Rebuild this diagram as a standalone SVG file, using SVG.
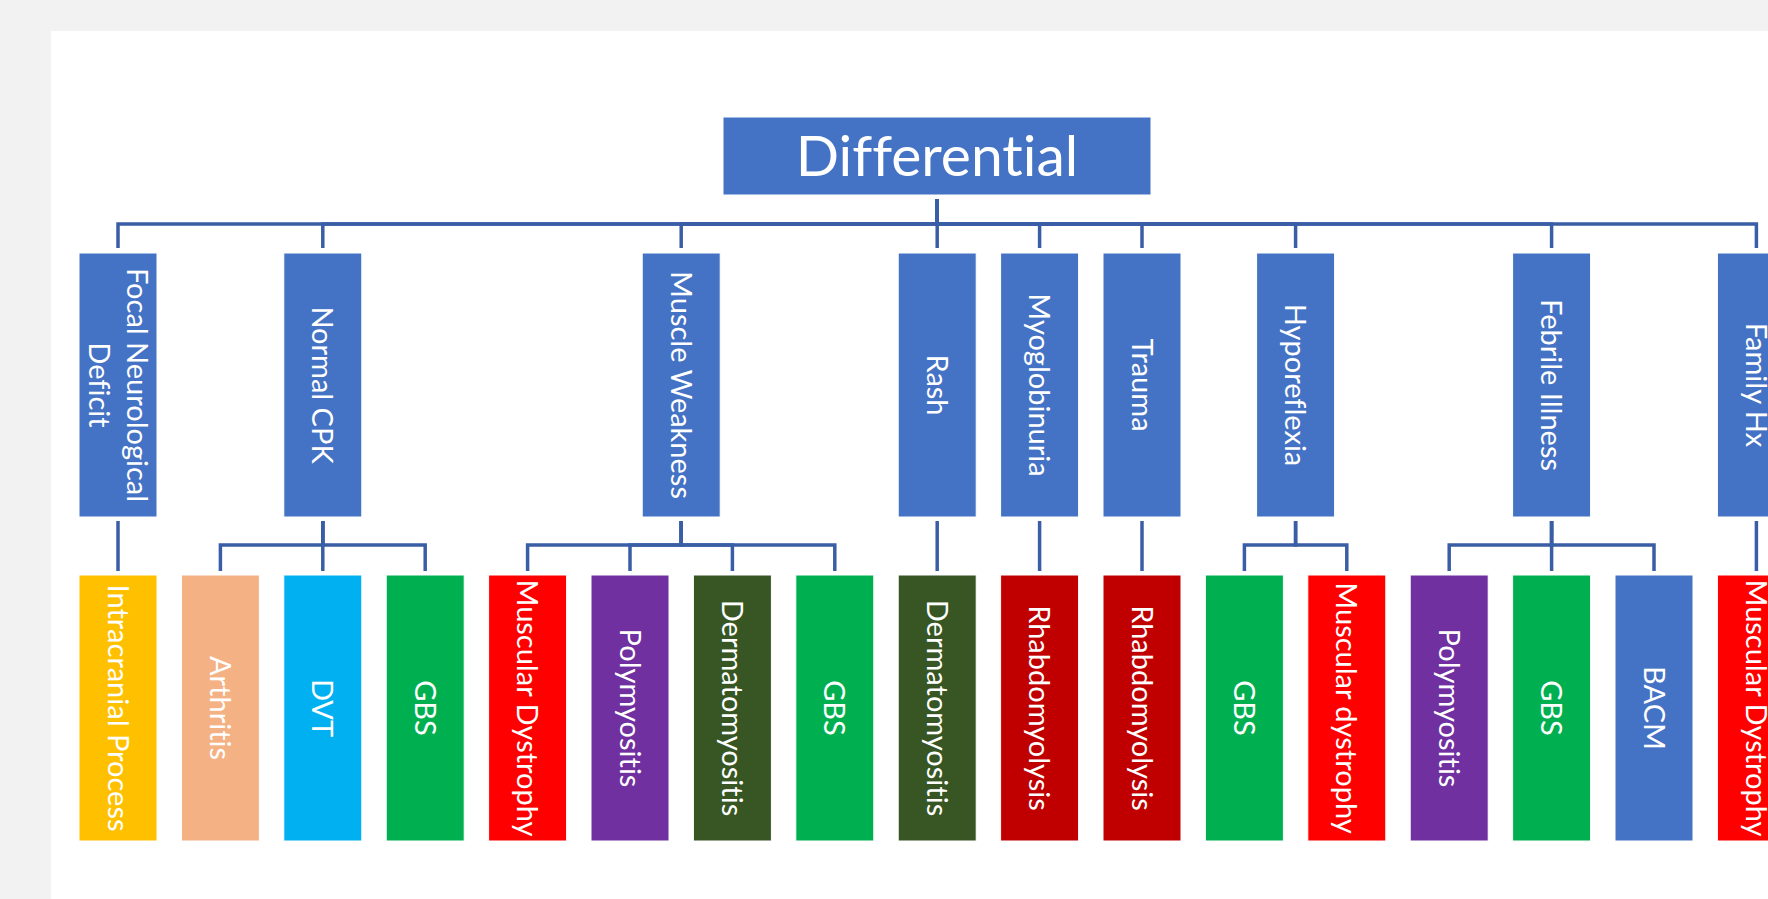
<svg xmlns="http://www.w3.org/2000/svg" width="1768" height="899" viewBox="0 0 1768 899">
  <style>
    .box { stroke: #ffffff; stroke-width: 1; }
    .blue { fill: #4472C4; }
    .lbl { font-family: Lato, "Liberation Sans", sans-serif; font-size: 29px; fill: #ffffff; text-anchor: middle; font-variant-ligatures: none; }
    .title { font-family: Lato, "Liberation Sans", sans-serif; font-size: 57px; fill: #ffffff; text-anchor: middle; font-variant-ligatures: none; }
    .conn { fill: none; stroke: #3A5EA6; stroke-width: 3.5; }
  </style>

  <!-- page -->
  <rect x="0" y="0" width="1768" height="899" fill="#F2F2F2"/>
  <rect x="51" y="31" width="1717" height="868" fill="#FFFFFF"/>

  <!-- connectors -->
  <g id="connectors" class="conn">
    <!-- root to first level -->
    <path d="M937.2,199 V224 H118 V248"/>
    <path d="M937.2,199 V224 H322.8 V248"/>
    <path d="M937.2,199 V224 H681.2 V248"/>
    <path d="M937.2,199 V248"/>
    <path d="M937.2,199 V224 H1039.6 V248"/>
    <path d="M937.2,199 V224 H1142 V248"/>
    <path d="M937.2,199 V224 H1295.6 V248"/>
    <path d="M937.2,199 V224 H1551.6 V248"/>
    <path d="M937.2,199 V224 H1756.4 V248"/>
    <!-- first level to second level -->
    <path d="M118,521 V571"/>
    <path d="M322.8,521 V545 H220.4 V571"/>
    <path d="M322.8,521 V571"/>
    <path d="M322.8,521 V545 H425.2 V571"/>
    <path d="M681.2,521 V545 H527.6 V571"/>
    <path d="M681.2,521 V545 H630 V571"/>
    <path d="M681.2,521 V545 H732.4 V571"/>
    <path d="M681.2,521 V545 H834.8 V571"/>
    <path d="M937.2,521 V571"/>
    <path d="M1039.6,521 V571"/>
    <path d="M1142,521 V571"/>
    <path d="M1295.6,521 V545 H1244.4 V571"/>
    <path d="M1295.6,521 V545 H1346.8 V571"/>
    <path d="M1551.6,521 V545 H1449.2 V571"/>
    <path d="M1551.6,521 V571"/>
    <path d="M1551.6,521 V545 H1654 V571"/>
    <path d="M1756.4,521 V571"/>
  </g>

  <!-- root -->
  <g id="differential">
    <rect class="box blue" x="723" y="117" width="428" height="78"/>
    <text class="title" x="937" y="176">Differential</text>
  </g>

  <!-- first level -->
  <g id="focal-neurological-deficit">
    <rect class="box blue" x="79" y="253" width="78" height="264"/>
    <text class="lbl" transform="translate(126.7,385) rotate(90)"><tspan x="0" y="0">Focal Neurological</tspan><tspan x="0" y="37.4">Deficit</tspan></text>
  </g>
  <g id="normal-cpk">
    <rect class="box blue" x="283.8" y="253" width="78" height="264"/>
    <text class="lbl" transform="translate(312.3,385) rotate(90)">Normal CPK</text>
  </g>
  <g id="muscle-weakness">
    <rect class="box blue" x="642.2" y="253" width="78" height="264"/>
    <text class="lbl" transform="translate(670.7,385) rotate(90)">Muscle Weakness</text>
  </g>
  <g id="rash">
    <rect class="box blue" x="898.2" y="253" width="78" height="264"/>
    <text class="lbl" transform="translate(926.7,385) rotate(90)">Rash</text>
  </g>
  <g id="myoglobinuria">
    <rect class="box blue" x="1000.6" y="253" width="78" height="264"/>
    <text class="lbl" transform="translate(1029.1,385) rotate(90)">Myoglobinuria</text>
  </g>
  <g id="trauma">
    <rect class="box blue" x="1103" y="253" width="78" height="264"/>
    <text class="lbl" transform="translate(1131.5,385) rotate(90)">Trauma</text>
  </g>
  <g id="hyporeflexia">
    <rect class="box blue" x="1256.6" y="253" width="78" height="264"/>
    <text class="lbl" transform="translate(1285.1,385) rotate(90)">Hyporeflexia</text>
  </g>
  <g id="febrile-illness">
    <rect class="box blue" x="1512.6" y="253" width="78" height="264"/>
    <text class="lbl" transform="translate(1541.1,385) rotate(90)">Febrile Illness</text>
  </g>
  <g id="family-hx">
    <rect class="box blue" x="1717.4" y="253" width="78" height="264"/>
    <text class="lbl" transform="translate(1745.9,385) rotate(90)">Family Hx</text>
  </g>

  <!-- second level -->
  <g id="intracranial-process">
    <rect class="box" fill="#FFC000" x="79" y="575" width="78" height="266"/>
    <text class="lbl" transform="translate(107.5,708) rotate(90)">Intracranial Process</text>
  </g>
  <g id="arthritis">
    <rect class="box" fill="#F4B183" x="181.4" y="575" width="78" height="266"/>
    <text class="lbl" transform="translate(209.9,708) rotate(90)">Arthritis</text>
  </g>
  <g id="dvt">
    <rect class="box" fill="#00B0F0" x="283.8" y="575" width="78" height="266"/>
    <text class="lbl" transform="translate(312.3,708) rotate(90)">DVT</text>
  </g>
  <g id="gbs-1">
    <rect class="box" fill="#00B050" x="386.2" y="575" width="78" height="266"/>
    <text class="lbl" transform="translate(414.7,708) rotate(90)">GBS</text>
  </g>
  <g id="muscular-dystrophy-1">
    <rect class="box" fill="#FF0000" x="488.6" y="575" width="78" height="266"/>
    <text class="lbl" transform="translate(517.1,708) rotate(90)">Muscular Dystrophy</text>
  </g>
  <g id="polymyositis-1">
    <rect class="box" fill="#7030A0" x="591" y="575" width="78" height="266"/>
    <text class="lbl" transform="translate(619.5,708) rotate(90)">Polymyositis</text>
  </g>
  <g id="dermatomyositis-1">
    <rect class="box" fill="#375623" x="693.4" y="575" width="78" height="266"/>
    <text class="lbl" transform="translate(721.9,708) rotate(90)">Dermatomyositis</text>
  </g>
  <g id="gbs-2">
    <rect class="box" fill="#00B050" x="795.8" y="575" width="78" height="266"/>
    <text class="lbl" transform="translate(824.3,708) rotate(90)">GBS</text>
  </g>
  <g id="dermatomyositis-2">
    <rect class="box" fill="#375623" x="898.2" y="575" width="78" height="266"/>
    <text class="lbl" transform="translate(926.7,708) rotate(90)">Dermatomyositis</text>
  </g>
  <g id="rhabdomyolysis-1">
    <rect class="box" fill="#C00000" x="1000.6" y="575" width="78" height="266"/>
    <text class="lbl" transform="translate(1029.1,708) rotate(90)">Rhabdomyolysis</text>
  </g>
  <g id="rhabdomyolysis-2">
    <rect class="box" fill="#C00000" x="1103" y="575" width="78" height="266"/>
    <text class="lbl" transform="translate(1131.5,708) rotate(90)">Rhabdomyolysis</text>
  </g>
  <g id="gbs-3">
    <rect class="box" fill="#00B050" x="1205.4" y="575" width="78" height="266"/>
    <text class="lbl" transform="translate(1233.9,708) rotate(90)">GBS</text>
  </g>
  <g id="muscular-dystrophy-2">
    <rect class="box" fill="#FF0000" x="1307.8" y="575" width="78" height="266"/>
    <text class="lbl" transform="translate(1336.3,708) rotate(90)">Muscular dystrophy</text>
  </g>
  <g id="polymyositis-2">
    <rect class="box" fill="#7030A0" x="1410.2" y="575" width="78" height="266"/>
    <text class="lbl" transform="translate(1438.7,708) rotate(90)">Polymyositis</text>
  </g>
  <g id="gbs-4">
    <rect class="box" fill="#00B050" x="1512.6" y="575" width="78" height="266"/>
    <text class="lbl" transform="translate(1541.1,708) rotate(90)">GBS</text>
  </g>
  <g id="bacm">
    <rect class="box blue" x="1615" y="575" width="78" height="266"/>
    <text class="lbl" transform="translate(1643.5,708) rotate(90)">BACM</text>
  </g>
  <g id="muscular-dystrophy-3">
    <rect class="box" fill="#FF0000" x="1717.4" y="575" width="78" height="266"/>
    <text class="lbl" transform="translate(1745.9,708) rotate(90)">Muscular Dystrophy</text>
  </g>
</svg>
